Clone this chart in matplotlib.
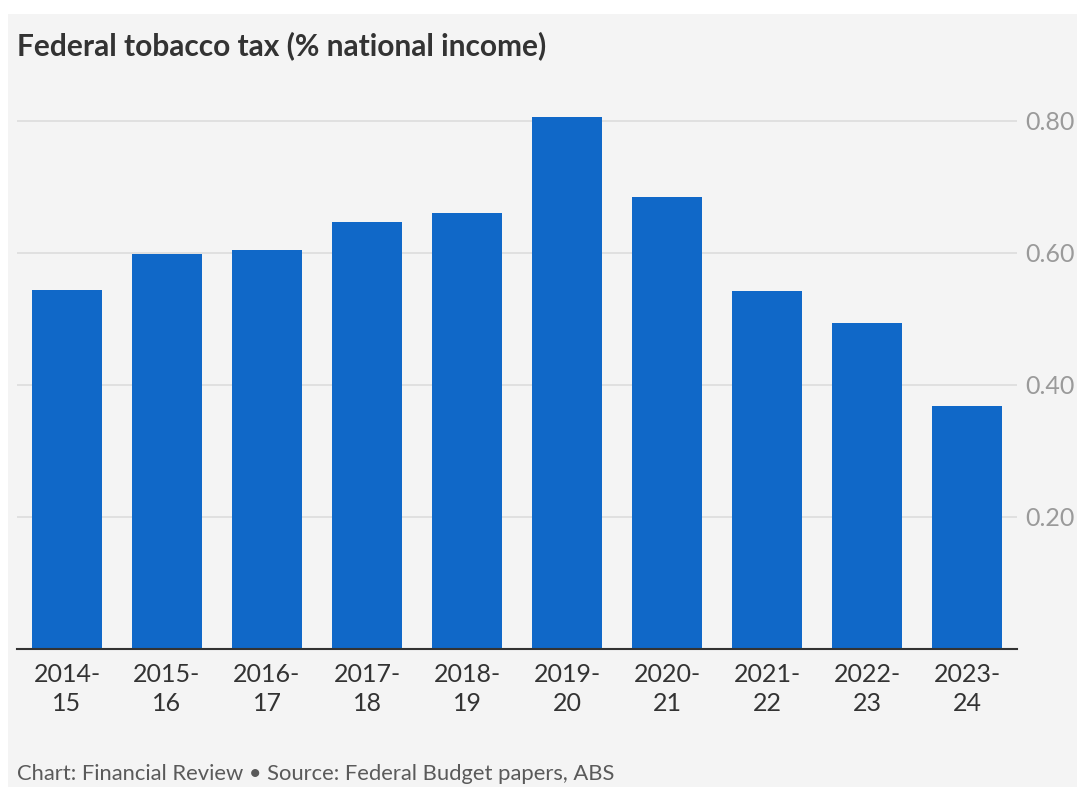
import matplotlib.pyplot as plt
from matplotlib.patches import Rectangle

years  = ["2014-\n15", "2015-\n16", "2016-\n17", "2017-\n18", "2018-\n19",
          "2019-\n20", "2020-\n21", "2021-\n22", "2022-\n23", "2023-\n24"]
values = [0.544, 0.598, 0.605, 0.647, 0.661, 0.806, 0.685, 0.542, 0.494, 0.368]
yticks = [0.2, 0.4, 0.6, 0.8]

BAR  = "#1068c8"
BG   = "#f4f4f4"
GRID = "#dcdcdc"

plt.rcParams["font.family"] = ["Lato", "DejaVu Sans"]

W, H = 1077, 787
fig = plt.figure(figsize=(W / 100, H / 100), dpi=100, facecolor="white")
fig.patches.append(Rectangle((8 / W, 0), 1, (H - 14) / H, transform=fig.transFigure,
                             facecolor=BG, edgecolor="none", zorder=-10))

ax = fig.add_axes([17 / W, 138 / H, 1000 / W, 559 / H])
ax.set_zorder(1)
ax.patch.set_alpha(0)

x = range(len(years))
ax.bar(x, values, width=0.7, color=BAR, zorder=3)

ax.set_xlim(-0.5, len(years) - 0.5)
ax.set_ylim(0, 559 / 660)
ax.set_yticks(yticks)
ax.set_yticklabels([f"{v:.2f}" for v in yticks])
ax.yaxis.tick_right()
ax.tick_params(axis="y", length=0, pad=6, labelsize=18, labelcolor="#9a9a9a")
ax.set_xticks(list(x))
ax.set_xticklabels(years, linespacing=1.3)
ax.tick_params(axis="x", length=0, pad=10, labelsize=18, labelcolor="#333333")
ax.grid(axis="y", color=GRID, lw=1.2, zorder=1)

for s in ["top", "right", "left"]:
    ax.spines[s].set_visible(False)
ax.spines["bottom"].set_color("#333333")
ax.spines["bottom"].set_linewidth(1.5)
ax.spines["bottom"].set_zorder(4)

fig.text(17 / W, 1 - 55 / H, "Federal tobacco tax (% national income)",
         fontsize=21.5, fontweight="bold", color="#333333", ha="left", va="baseline")
fig.text(17 / W, 1 - 780 / H, "Chart: Financial Review \u2022 Source: Federal Budget papers, ABS",
         fontsize=15.8, color="#5a5a5a", ha="left", va="baseline")

fig.savefig("out.png", dpi=100, facecolor="white")
